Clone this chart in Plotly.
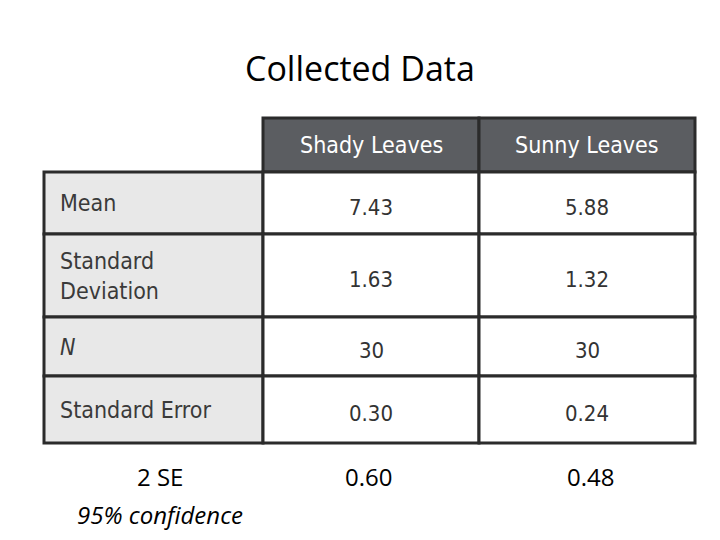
import plotly.graph_objects as go

title = "Collected Data"
columns = ["Shady Leaves", "Sunny Leaves"]
row_labels = ["Mean", "Standard<br>Deviation", "<i>N</i>", "Standard Error"]
shady = ["7.43", "1.63", "30", "0.30"]
sunny = ["5.88", "1.32", "30", "0.24"]
extra_label = ["2 SE", "<i>95% confidence</i>"]
extra_values = ["0.60", "0.48"]

# table geometry (pixels, origin top-left)
col_edges = [44, 263, 479, 695]
header_top = 118
row_edges = [172, 234, 317, 376, 443]
border = "#2b2b2b"
cond_font = "DejaVu Sans Condensed, Liberation Sans, sans-serif"
slide_font = "Open Sans, Liberation Sans, sans-serif"

fig = go.Figure()
shapes = []
ann = []

# header cells
for j in range(2):
    x0, x1 = col_edges[j + 1], col_edges[j + 2]
    shapes.append(dict(type="rect", x0=x0, x1=x1, y0=header_top, y1=row_edges[0],
                       fillcolor="#5b5d61", line=dict(color=border, width=3)))
    ann.append(dict(x=(x0 + x1) / 2, y=(header_top + row_edges[0]) / 2, text=columns[j],
                    showarrow=False, font=dict(family=cond_font, size=23, color="white")))

# body cells
for i in range(len(row_labels)):
    y0, y1 = row_edges[i], row_edges[i + 1]
    yc = (y0 + y1) / 2
    shapes.append(dict(type="rect", x0=col_edges[0], x1=col_edges[1], y0=y0, y1=y1,
                       fillcolor="#e8e8e8", line=dict(color=border, width=3)))
    for j in range(2):
        shapes.append(dict(type="rect", x0=col_edges[j + 1], x1=col_edges[j + 2], y0=y0, y1=y1,
                           fillcolor="white", line=dict(color=border, width=3)))
    ann.append(dict(x=58, y=yc, text=row_labels[i], xanchor="left", align="left",
                    showarrow=False, font=dict(family=cond_font, size=23, color="#3a3a3a")))
    for j, vals in enumerate([shady, sunny]):
        ann.append(dict(x=(col_edges[j + 1] + col_edges[j + 2]) / 2, y=yc + 4, text=vals[i],
                        showarrow=False, font=dict(family=cond_font, size=22, color="#333333")))

# title and extra row
ann.append(dict(x=360, y=68, text=title, showarrow=False,
                font=dict(family=slide_font, size=34, color="black")))
ann.append(dict(x=160, y=476, text=extra_label[0], showarrow=False,
                font=dict(family=slide_font, size=24, color="black")))
ann.append(dict(x=160, y=514, text=extra_label[1], showarrow=False,
                font=dict(family=slide_font, size=24, color="black")))
for j, v in enumerate(extra_values):
    ann.append(dict(x=[368, 590][j], y=476, text=v, showarrow=False,
                    font=dict(family=slide_font, size=24, color="black")))

# the page body adds an 8px offset; shift the ranges to compensate
fig.update_layout(
    width=720, height=540, margin=dict(l=0, r=0, t=0, b=0),
    paper_bgcolor="white", plot_bgcolor="white",
    xaxis=dict(range=[8, 728], visible=False, fixedrange=True),
    yaxis=dict(range=[548, 8], visible=False, fixedrange=True),
    shapes=shapes, annotations=ann, showlegend=False,
)
fig.write_html("out.html")
